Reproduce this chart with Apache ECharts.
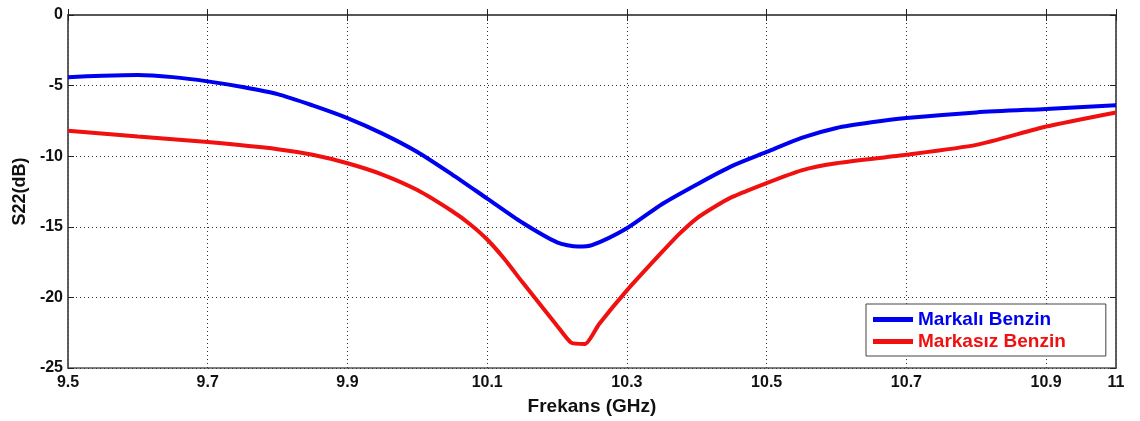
<!DOCTYPE html>
<html>
<head>
<meta charset="utf-8">
<script src="https://cdn.jsdelivr.net/npm/echarts@6/dist/echarts.min.js"></script>
<style>
  html, body { margin: 0; padding: 0; background: #fff; }
  #chart { width: 1140px; height: 421px; }
</style>
</head>
<body>
<div id="chart"></div>
<script>
// Frequency (GHz) / S22 (dB) samples for each fuel type
const markaliFreq = [9.5, 9.55, 9.6, 9.65, 9.7, 9.75, 9.8, 9.85, 9.9, 9.95, 10.0, 10.05, 10.1, 10.15, 10.2, 10.23, 10.25, 10.3, 10.35, 10.4, 10.45, 10.5, 10.55, 10.6, 10.65, 10.7, 10.8, 10.9, 11.0];
const markaliS22  = [-4.4, -4.3, -4.25, -4.4, -4.7, -5.1, -5.6, -6.4, -7.3, -8.4, -9.7, -11.3, -13.0, -14.7, -16.1, -16.4, -16.3, -15.1, -13.4, -12.0, -10.7, -9.7, -8.7, -8.0, -7.6, -7.3, -6.9, -6.65, -6.4];

const markasizFreq = [9.5, 9.6, 9.7, 9.8, 9.85, 9.9, 9.95, 10.0, 10.05, 10.075, 10.1, 10.125, 10.15, 10.2, 10.22, 10.24, 10.26, 10.3, 10.35, 10.375, 10.4, 10.425, 10.45, 10.5, 10.55, 10.6, 10.7, 10.8, 10.9, 11.0];
const markasizS22  = [-8.2, -8.6, -9.0, -9.5, -9.9, -10.5, -11.3, -12.4, -13.9, -14.8, -15.9, -17.3, -18.9, -22.0, -23.2, -23.3, -21.9, -19.5, -16.8, -15.5, -14.4, -13.6, -12.9, -11.9, -11.0, -10.5, -9.9, -9.2, -7.9, -6.9];

const seriesNames = ['Markalı Benzin', 'Markasız Benzin'];
const seriesColors = ['#0000f0', '#f01010'];

const zip = (xs, ys) => xs.map((x, i) => [x, ys[i]]);

const fontFamily = 'Liberation Sans, Arial, sans-serif';
const tickText = { color: '#111', fontWeight: 'bold', fontSize: 16, fontFamily };
const gridLine = { show: true, lineStyle: { color: '#333', type: [1, 3], width: 1 } };
const frame = { show: true, lineStyle: { color: '#555', width: 1.5 } };
const innerTick = { show: true, inside: true, length: 6, lineStyle: { color: '#222' } };

const chart = echarts.init(document.getElementById('chart'));
chart.setOption({
  animation: false,
  backgroundColor: '#fff',
  grid: { left: 68, right: 24, top: 15, bottom: 53, show: true, borderColor: '#555', borderWidth: 1.5 },
  legend: {
    orient: 'vertical',
    left: 866, top: 304,
    itemWidth: 40, itemHeight: 5, itemGap: 3,
    icon: 'rect',
    padding: [6, 40, 5, 7],
    borderColor: '#444', borderWidth: 1, backgroundColor: '#fff',
    data: seriesNames.map((n, i) => ({
      name: n,
      textStyle: { color: seriesColors[i], fontWeight: 'bold', fontSize: 19, fontFamily }
    }))
  },
  xAxis: [{
    type: 'value', min: 9.5, max: 11, interval: 0.2,
    name: 'Frekans (GHz)', nameLocation: 'middle', nameGap: 29,
    nameTextStyle: { color: '#111', fontWeight: 'bold', fontSize: 19, fontFamily },
    axisLine: frame,
    axisTick: innerTick,
    axisLabel: Object.assign({ margin: 7, formatter: v => String(+v.toFixed(2)) }, tickText),
    splitLine: gridLine
  }, {
    type: 'value', min: 9.5, max: 11, interval: 0.2, position: 'top',
    axisLine: frame, axisTick: innerTick,
    axisLabel: { show: false }, splitLine: { show: false }
  }],
  yAxis: [{
    type: 'value', min: -25, max: 0, interval: 5,
    name: 'S22(dB)', nameLocation: 'middle', nameGap: 39, nameRotate: 90,
    nameTextStyle: { color: '#111', fontWeight: 'bold', fontSize: 18, fontFamily },
    axisLine: frame,
    axisTick: innerTick,
    axisLabel: Object.assign({ margin: 5 }, tickText),
    splitLine: gridLine
  }, {
    type: 'value', min: -25, max: 0, interval: 5, position: 'right',
    axisLine: frame, axisTick: innerTick,
    axisLabel: { show: false }, splitLine: { show: false }
  }],
  series: [
    { name: seriesNames[0], type: 'line', smooth: 0.25, showSymbol: false, color: seriesColors[0],
      lineStyle: { width: 4, color: seriesColors[0] }, data: zip(markaliFreq, markaliS22) },
    { name: seriesNames[1], type: 'line', smooth: 0.2, showSymbol: false, color: seriesColors[1],
      lineStyle: { width: 4, color: seriesColors[1] }, data: zip(markasizFreq, markasizS22) }
  ]
});
</script>
</body>
</html>
